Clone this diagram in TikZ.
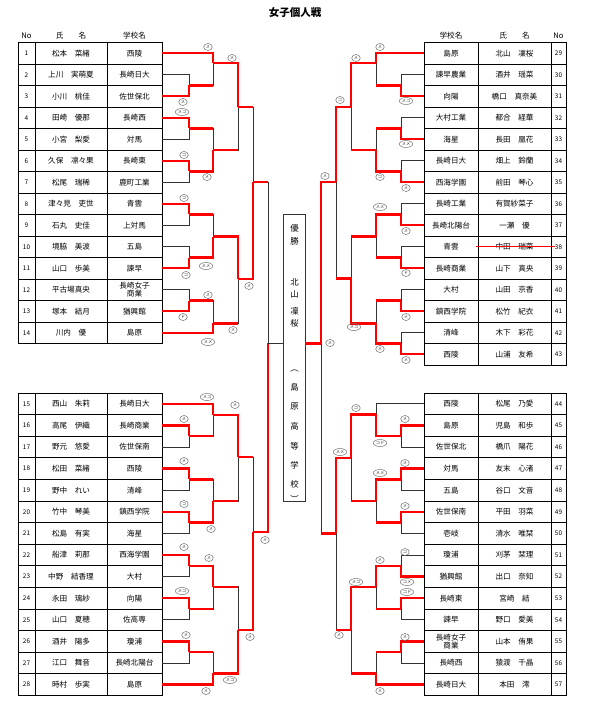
\documentclass[tikz,border=0pt]{standalone}
\usepackage{fontspec}
\setmainfont{Noto Sans CJK JP}
\usetikzlibrary{shapes.geometric}

% match / x level / output y / winner / loser / style of the loser's incoming line
\def\matchlist{%
  m23/189/85.5/p3/p2/lose, m45/189/128.5/p4/p5/lose, m67/189/171.5/p6/p7/lose,
  m89/189/214.5/p8/p9/lose, m1011/189/257.5/p11/p10/lose, m1213/189/300.5/p13/p12/lose,
  m1617/189/436.2/p16/p17/lose, m1819/189/479.4/p18/p19/lose, m2021/189/522.6/p20/p21/lose,
  m2223/189/565.8/p22/p23/lose, m2425/189/609/p24/p25/lose, m2627/189/652.2/p26/p27/lose,
  m1a/213/63.3/p1/m23/win, m4a/213/150/m67/m45/win, m8a/213/236.7/m1011/m89/win,
  m12a/213/323.3/p14/m1213/win, m15a/213/415/p15/m1617/win, m18a/213/501/m2021/m1819/win,
  m22a/213/586.7/m2223/m2425/win, m26a/213/673.3/p28/m2627/win,
  mA/238/107.3/m1a/m4a/win, mB/238/279/m8a/m12a/win,
  mC/238/457/m15a/m18a/win, mD/238/630/m26a/m22a/win,
  mAB/253/182.3/mB/mA/win, mCD/253/532/mD/mC/win,
  mL/268/343/mCD/mAB/win,
  m3031/401/85.5/p31/p30/lose, m3233/401/128.5/p33/p32/lose, m3435/401/171.5/p35/p34/lose,
  m3637/401/214.5/p37/p36/lose, m3839/401/257.5/p39/p38/lose, m4041/401/300.5/p41/p40/lose,
  m4243/401/343.5/p43/p42/lose, m4546/401/436.2/p45/p46/lose, m4748/401/479.4/p47/p48/lose,
  m4950/401/522.6/p49/p50/lose, m5152/401/565.8/p52/p51/lose, m5354/401/609/p53/p54/lose,
  m5556/401/652.2/p55/p56/lose,
  m29a/376/63.3/p29/m3031/win, m32a/376/150/m3435/m3233/win, m36a/376/236.7/m3637/m3839/win,
  m40a/376/323.3/m4243/m4041/win, m44a/376/414.3/m4546/p44/lose, m47a/376/501/m4748/m4950/win,
  m51a/376/586.7/m5152/m5354/win, m55a/376/673.3/p57/m5556/win,
  mE/351/107.3/m29a/m32a/win, mF/351/278.3/m40a/m36a/win,
  mG/351/457.7/m44a/m47a/win, mH/351/630/m51a/m55a/win,
  mEF/336/182.3/mE/mF/win, mGH/336/533.3/mG/mH/win,
  mR/321/343.5/mEF/mGH/win}

\begin{document}
\begin{tikzpicture}[x=1pt, y=-1pt,
  tbl/.style={draw=black, line width=0.7pt},
  cell/.style={font=\fontsize{7.6}{8.4}\selectfont, inner sep=0pt, align=center},
  numc/.style={font=\fontsize{6.4}{7}\selectfont, inner sep=0pt},
  head/.style={font=\fontsize{7.6}{8}\selectfont, inner sep=0pt},
  lose/.style={draw=black!80, line width=0.8pt},
  win/.style={draw=red, line width=2.4pt},
  strike/.style={draw=red, line width=0.6pt},
  mk/.style={ellipse, draw=black!55, line width=0.5pt, inner sep=0.5pt,
             minimum width=8.5pt, minimum height=7pt,
             font=\fontsize{4.2}{4.5}\selectfont, text=black!80},
  champbox/.style={draw=black!80, line width=0.8pt, minimum width=22pt,
                   minimum height=287pt, inner sep=0pt},
  vchar/.style={font=\fontsize{8.4}{9}\selectfont, inner sep=0pt},
]
\useasboundingbox (0,0) rectangle (592,708);

% Title and headers
\node[font=\fontsize{10.5}{12}\selectfont\bfseries] (title) at (295,13) {女子個人戦};
\node[head] (hno) at (26.5,36) {No};
\node[head] (hnm) at (71,36) {氏　　名};
\node[head] (hsc) at (134.5,36) {学校名};
\node[head] (hsc2) at (451,36) {学校名};
\node[head] (hnm2) at (514.5,36) {氏　　名};
\node[head] (hno2) at (558.5,36) {No};

% Tables (left)
\draw[tbl] (18,42.5) rectangle (162,343.5);
\foreach \k in {1,...,13} \draw[tbl] (18,{42.5+21.5*\k}) -- (162,{42.5+21.5*\k});
\draw[tbl] (35,42.5) -- (35,343.5) (107,42.5) -- (107,343.5);
\draw[tbl] (18,393) rectangle (162,695.4);
\foreach \k in {1,...,13} \draw[tbl] (18,{393+21.6*\k}) -- (162,{393+21.6*\k});
\draw[tbl] (35,393) -- (35,695.4) (107,393) -- (107,695.4);

% Tables (right)
\draw[tbl] (424,42.5) rectangle (566,365);
\foreach \k in {1,...,14} \draw[tbl] (424,{42.5+21.5*\k}) -- (566,{42.5+21.5*\k});
\draw[tbl] (478,42.5) -- (478,365) (551,42.5) -- (551,365);
\draw[tbl] (424,393) rectangle (566,695.4);
\foreach \k in {1,...,13} \draw[tbl] (424,{393+21.6*\k}) -- (566,{393+21.6*\k});
\draw[tbl] (478,393) -- (478,695.4) (551,393) -- (551,695.4);

% Players
\foreach \nm/\sc [count=\i] in {松本　菜緒/西陵, 上川　実萌夏/長崎日大, 小川　桃佳/佐世保北,
    田崎　優那/長崎西, 小宮　梨愛/対馬, 久保　凛々果/長崎東, 松尾　瑞稀/鹿町工業,
    津々見　吏世/青雲, 石丸　史佳/上対馬, 境脇　美波/五島, 山口　歩美/諫早,
    平古場真央/{長崎女子\\商業}, 塚本　結月/猶興館, 川内　優/島原} {
  \pgfmathsetmacro\yy{42.5+21.5*(\i-0.5)}
  \node[numc] (no\i) at (26.5,\yy) {\i};
  \node[cell] (nm\i) at (71,\yy) {\nm};
  \node[cell] (sc\i) at (134.5,\yy) {\sc};
  \coordinate (p\i) at (162,\yy);
}
\foreach \nm/\sc [count=\i from 15] in {西山　朱莉/長崎日大, 高尾　伊織/長崎商業,
    野元　悠愛/佐世保南, 松田　菜緒/西陵, 野中　れい/清峰, 竹中　琴美/鎮西学院,
    松島　有実/海星, 船津　莉那/西海学園, 中野　結香理/大村, 永田　璃紗/向陽,
    山口　夏穂/佐高専, 酒井　陽多/瓊浦, 江口　舞音/長崎北陽台, 時村　歩実/島原} {
  \pgfmathsetmacro\yy{393+21.6*(\i-14.5)}
  \node[numc] (no\i) at (26.5,\yy) {\i};
  \node[cell] (nm\i) at (71,\yy) {\nm};
  \node[cell] (sc\i) at (134.5,\yy) {\sc};
  \coordinate (p\i) at (162,\yy);
}
\foreach \sc/\nm [count=\i from 29] in {島原/北山　凜桜, 諫早農業/酒井　瑶菜,
    向陽/橋口　真奈美, 大村工業/都合　経華, 海星/長田　凰花, 長崎日大/畑上　鈴蘭,
    西海学園/前田　琴心, 長崎工業/有賀紗菜子, 長崎北陽台/一瀬　優, 青雲/中田　瑞菜,
    長崎商業/山下　真央, 大村/山田　京香, 鎮西学院/松竹　紀衣, 清峰/木下　彩花,
    西陵/山浦　友希} {
  \pgfmathsetmacro\yy{42.5+21.5*(\i-28.5)}
  \node[numc] (no\i) at (558.5,\yy) {\i};
  \node[cell] (nm\i) at (514.5,\yy) {\nm};
  \node[cell] (sc\i) at (451,\yy) {\sc};
  \coordinate (p\i) at (424,\yy);
}
\foreach \sc/\nm [count=\i from 44] in {西陵/松尾　乃愛, 島原/児島　和歩,
    佐世保北/橋爪　陽花, 対馬/友末　心渚, 五島/谷口　文音, 佐世保南/平田　羽菜,
    壱岐/清水　唯栞, 瓊浦/刈茅　栞理, 猶興館/出口　奈知, 長崎東/宮崎　結,
    諫早/野口　愛美, {長崎女子\\商業}/山本　侑果, 長崎西/猿渡　千晶, 長崎日大/本田　澪} {
  \pgfmathsetmacro\yy{393+21.6*(\i-43.5)}
  \node[numc] (no\i) at (558.5,\yy) {\i};
  \node[cell] (nm\i) at (514.5,\yy) {\nm};
  \node[cell] (sc\i) at (451,\yy) {\sc};
  \coordinate (p\i) at (424,\yy);
}
\coordinate (st38) at (476,246.75);
\draw[strike] (st38) -- (st38 -| no38.west);

% Bracket: junctions and losing lines, then winning lines on top
\foreach \m/\x/\y/\w/\l/\h in \matchlist {
  \coordinate (\m) at (\x,\y);
  \draw[lose] (\l) -| (\m);
}
\foreach \m/\x/\y/\w/\l/\h in \matchlist {
  \draw[win] (\w) -| (\m);
  \draw[\h] (\l) -- (\l -| \m);
}

% Champion
\node[champbox] (champ) at (294,357.5) {};
\draw[lose] (mL) -- (champ.west |- mL);
\draw[win] (mR) -- (champ.east |- mR);
\foreach \c/\y [count=\k] in {優/228, 勝/241, 北/282, 山/294, 凜/311, 桜/323, ︵/371,
    島/387, 原/407, 高/426, 等/446, 学/465, 校/484, ︶/499}
  \node[vchar] (t\k) at (294.5,\y) {\c};

% Score marks
\foreach \x/\y/\t [count=\k] in {208/47/メ, 232/58/メ, 183/102/メ, 182/112/メコ, 184/155/コ,
    207/177/メ, 184/198/コ, 206/266/メメ, 186/275/コ, 249/286/メ, 208/295/メ, 183/317/ド,
    233/330/メ, 208/342/メメ, 207/397/メコ, 235/405/メ, 184/419/メ, 184/461/メ, 184/504/コ,
    211/529/メ, 265/540/メ, 184/547/メ, 209/558/メ, 182/591/メコ, 186/635/メ, 250/637/メ,
    230/680/メコ, 206/691/メ,
    380/47/メ, 356/58/メ, 340/100/コ, 406/101/メコ, 406/144/メメ, 325/176/メ, 380/177/コ,
    406/188/メ, 380/207/メメ, 406/231/メ, 406/273/ド, 406/317/メ, 354/327/メコ, 330/343/メ,
    380/349/メ, 406/360/メ, 356/408/コ, 405/419/メ, 380/443/コド, 340/452/メメ, 405/463/メ,
    380/473/メメ, 405/506/メ, 405/552/コ, 380/560/メ, 356/582/メコ, 407/582/コメ,
    407/592/コド, 339/635/メ, 405/637/メ, 380/691/メ}
  \node[mk] (k\k) at (\x,\y) {\t};

\end{tikzpicture}
\end{document}
